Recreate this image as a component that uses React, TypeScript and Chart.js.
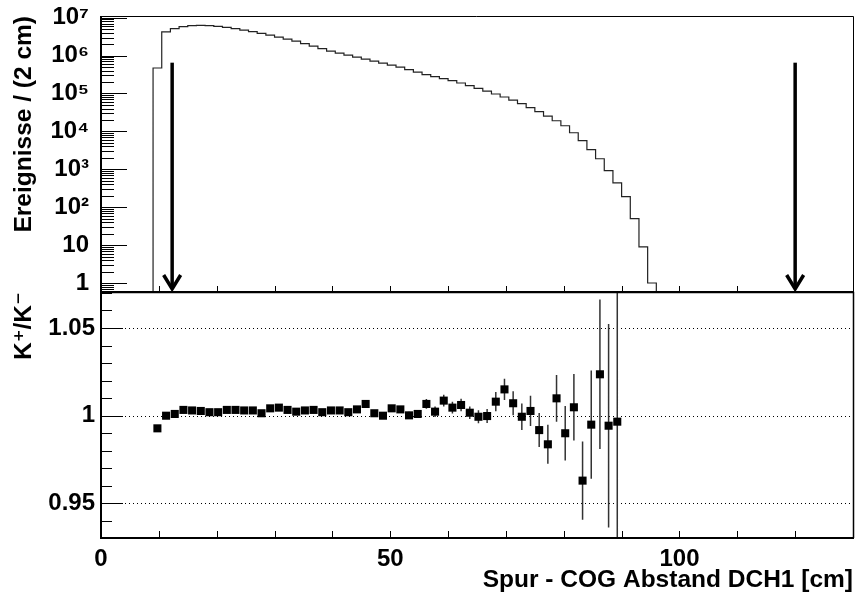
import React, { useEffect, useRef } from 'react';
import { Chart, registerables } from 'chart.js';

Chart.register(...registerables);

const FONT_FAMILY = "'Liberation Sans', Arial, 'DejaVu Sans', sans-serif";

// ---------------- data ----------------
// histogram: lower bin edges [cm] and counts per bin
const histLowEdges = [
  9, 10.5, 12, 13.5, 15, 16.5, 18, 19.5, 21, 22.5,
  24, 25.5, 27, 28.5, 30, 31.5, 33, 34.5, 36, 37.5,
  39, 40.5, 42, 43.5, 45, 46.5, 48, 49.5, 51, 52.5,
  54, 55.5, 57, 58.5, 60, 61.5, 63, 64.5, 66, 67.5,
  69, 70.5, 72, 73.5, 75, 76.5, 78, 79.5, 81, 82.5,
  84, 85.5, 87, 88.5, 90, 91.5, 93, 94.5,
];
const histUpperEdge = 96;
const histCounts = [
  4.71e5, 4.2e6, 5.13e6, 5.79e6, 6.15e6, 6.26e6, 6.15e6, 5.89e6, 5.55e6, 5.13e6,
  4.68e6, 4.27e6, 3.85e6, 3.45e6, 3.06e6, 2.71e6, 2.4e6, 2.06e6, 1.77e6, 1.52e6,
  1.31e6, 1.16e6, 1.03e6, 9.08e5, 8.04e5, 7.12e5, 6.3e5, 5.58e5, 4.94e5, 4.25e5,
  3.65e5, 3.13e5, 2.77e5, 2.46e5, 2.18e5, 1.89e5, 1.61e5, 1.36e5, 1.15e5, 9.7e4,
  8.09e4, 6.65e4, 5.38e4, 4.22e4, 3.31e4, 2.52e4, 1.91e4, 1.41e4, 9.2e3, 5.7e3,
  3.3e3, 1.9e3, 920, 440, 190, 50, 9, 1,
];

// ratio K+/K-: bin centres, values, errors
const ratioX = [
  9.75, 11.25, 12.75, 14.25, 15.75, 17.25, 18.75, 20.25, 21.75, 23.25,
  24.75, 26.25, 27.75, 29.25, 30.75, 32.25, 33.75, 35.25, 36.75, 38.25,
  39.75, 41.25, 42.75, 44.25, 45.75, 47.25, 48.75, 50.25, 51.75, 53.25,
  54.75, 56.25, 57.75, 59.25, 60.75, 62.25, 63.75, 65.25, 66.75, 68.25,
  69.75, 71.25, 72.75, 74.25, 75.75, 77.25, 78.75, 80.25, 81.75, 83.25,
  84.75, 86.25, 87.75, 89.25,
];
const ratioY = [
  0.9928, 1.0, 1.001, 1.0033, 1.003, 1.0027, 1.002, 1.002, 1.0033, 1.0033,
  1.003, 1.003, 1.0014, 1.0042, 1.0046, 1.0033, 1.0023, 1.003, 1.0033, 1.002,
  1.003, 1.003, 1.002, 1.0036, 1.0067, 1.0014, 1.0, 1.0042, 1.0036, 1.0002,
  1.001, 1.0067, 1.0023, 1.0086, 1.0046, 1.0061, 1.0017, 0.9994, 0.9998, 1.008,
  1.015, 1.0071, 0.9994, 1.0027, 0.9918, 0.9837, 1.0099, 0.99, 1.0048, 0.963,
  0.9949, 1.0236, 0.9943, 0.9966,
];
const ratioErr = [
  0.0008, 0.0006, 0.0005, 0.0005, 0.0005, 0.0005, 0.0005, 0.0005, 0.0006, 0.0006,
  0.0006, 0.0007, 0.0007, 0.0008, 0.0008, 0.0009, 0.0009, 0.001, 0.001, 0.0011,
  0.0012, 0.0012, 0.0013, 0.0014, 0.0015, 0.0016, 0.0017, 0.0018, 0.002, 0.0021,
  0.0023, 0.0028, 0.003, 0.0033, 0.0034, 0.0035, 0.0036, 0.0037, 0.004, 0.0055,
  0.006, 0.0069, 0.0076, 0.0086, 0.0097, 0.0111, 0.0133, 0.0156, 0.019, 0.0223,
  0.0308, 0.0426, 0.058, 0.2,
];

// cut positions (arrows) and arrow top level
const cutArrowsX = [12.3, 120];
const arrowTopValue = 6.5e5;

// axes
const xRange = [0, 130];
const xTickValues = [0, 50, 100];
const xTickLabels = ['0', '50', '100'];
const topYRange = [0.579, 1.108e7];
const topTickValues = [1, 10, 100, 1e3, 1e4, 1e5, 1e6, 1e7];
const topTickLabels = ['1', '10', '10²', '10³', '10⁴', '10⁵', '10⁶', '10⁷'];
const ratioYRange = [0.9303, 1.0705];
const ratioTickValues = [0.95, 1, 1.05];
const ratioTickLabels = ['0.95', '1', '1.05'];

// ---------------- layout ----------------
const W = 859;
const PAGE_H = 592;
const PANEL_SPLIT = 292; // page y of boundary between the panels
const PLOT_TOP = 16; // page y of top of the upper panel
const PLOT_BOTTOM = 538; // page y of bottom of the lower panel
const OVER = 40; // overlap margin of the canvases
const TOP_CANVAS_Y = -OVER;
const TOP_H = PANEL_SPLIT + 2 * OVER;
const BOT_CANVAS_Y = PANEL_SPLIT - OVER;
const BOT_H = PAGE_H - BOT_CANVAS_Y;
const AXIS_W = 101;
const RIGHT_PAD = 6;
const HIST_FLOOR = 0.1;

const tickFont = { family: FONT_FAMILY, size: 24, weight: 'bold' as const };
const titleFont = { family: FONT_FAMILY, size: 24.5, weight: 'bold' as const, lineHeight: 1 };

function drawFrame(ctx: CanvasRenderingContext2D, a: any, bottomW: number, topW: number) {
  ctx.strokeStyle = '#000';
  ctx.lineWidth = 2;
  ctx.beginPath();
  ctx.moveTo(a.left, a.top);
  ctx.lineTo(a.left, a.bottom);
  ctx.stroke();
  ctx.lineWidth = bottomW;
  ctx.beginPath();
  ctx.moveTo(a.left - 1, a.bottom);
  ctx.lineTo(a.right + 1, a.bottom);
  ctx.stroke();
  ctx.lineWidth = topW;
  ctx.beginPath();
  ctx.moveTo(a.left - 1, a.top + 0.5);
  ctx.lineTo(a.right + 0.5, a.top + 0.5);
  ctx.lineTo(a.right + 0.5, a.bottom);
  ctx.stroke();
}

const topDecorPlugin = {
  id: 'topDecor',
  afterDraw(chart: any) {
    const { ctx, chartArea: a, scales } = chart;
    const xs = scales.x;
    const ys = scales.y;
    ctx.save();
    ctx.strokeStyle = '#000';
    ctx.lineWidth = 1;
    ctx.beginPath();
    for (let e = -1; e <= 7; e++) {
      for (let m = 1; m <= 9; m++) {
        const v = m * Math.pow(10, e);
        if (v < ys.min || v > ys.max) continue;
        const py = Math.round(ys.getPixelForValue(v)) + 0.5;
        const len = m === 1 ? 26 : 13;
        ctx.moveTo(a.left, py);
        ctx.lineTo(a.left + len, py);
      }
    }
    for (let v = xRange[0] + 10; v < xRange[1]; v += 10) {
      const px = Math.round(xs.getPixelForValue(v)) + 0.5;
      ctx.moveTo(px, a.bottom);
      ctx.lineTo(px, a.bottom - 6);
    }
    ctx.stroke();

    // cut arrows
    ctx.lineWidth = 3.5;
    ctx.lineCap = 'butt';
    ctx.lineJoin = 'miter';
    for (const ax of cutArrowsX) {
      const px = xs.getPixelForValue(ax);
      const pTop = ys.getPixelForValue(arrowTopValue);
      const pBot = a.bottom - 3;
      ctx.beginPath();
      ctx.moveTo(px, pTop);
      ctx.lineTo(px, pBot);
      ctx.stroke();
      ctx.beginPath();
      ctx.moveTo(px - 8.5, pBot - 14);
      ctx.lineTo(px, pBot);
      ctx.lineTo(px + 8.5, pBot - 14);
      ctx.stroke();
    }

    drawFrame(ctx, a, 2, 1);
    ctx.restore();
  },
};

const botDecorPlugin = {
  id: 'botDecor',
  beforeDatasetsDraw(chart: any) {
    const { ctx, chartArea: a, scales } = chart;
    const xs = scales.x;
    const ys = scales.y;
    ctx.save();
    ctx.strokeStyle = '#000';
    ctx.lineWidth = 1;
    ctx.setLineDash([1, 3]);
    ctx.beginPath();
    for (const v of ratioTickValues) {
      const py = Math.round(ys.getPixelForValue(v)) + 0.5;
      ctx.moveTo(a.left, py);
      ctx.lineTo(a.right, py);
    }
    ctx.stroke();
    ctx.setLineDash([]);
    ctx.beginPath();
    ctx.rect(a.left, a.top, a.right - a.left, a.bottom - a.top);
    ctx.clip();
    ctx.strokeStyle = '#333';
    ctx.lineWidth = 1.5;
    ctx.beginPath();
    ratioX.forEach((x, i) => {
      const px = xs.getPixelForValue(x);
      ctx.moveTo(px, ys.getPixelForValue(ratioY[i] - ratioErr[i]));
      ctx.lineTo(px, ys.getPixelForValue(ratioY[i] + ratioErr[i]));
    });
    ctx.stroke();
    ctx.restore();
  },
  afterDraw(chart: any) {
    const { ctx, chartArea: a, scales } = chart;
    const xs = scales.x;
    const ys = scales.y;
    ctx.save();
    ctx.strokeStyle = '#000';
    ctx.lineWidth = 1;
    ctx.beginPath();
    for (let k = 93; k <= 107; k++) {
      const v = k / 100;
      if (v < ys.min || v > ys.max) continue;
      const py = Math.round(ys.getPixelForValue(v)) + 0.5;
      const major = ratioTickValues.some((t) => Math.abs(t - v) < 1e-9);
      ctx.moveTo(a.left, py);
      ctx.lineTo(a.left + (major ? 22 : 11), py);
    }
    for (let v = xRange[0] + 10; v < xRange[1]; v += 10) {
      const px = Math.round(xs.getPixelForValue(v)) + 0.5;
      ctx.moveTo(px, a.bottom);
      ctx.lineTo(px, a.bottom - 7);
    }
    ctx.stroke();
    drawFrame(ctx, a, 2, 1.5);
    ctx.restore();
  },
};

function App() {
  const topRef = useRef<HTMLCanvasElement>(null);
  const botRef = useRef<HTMLCanvasElement>(null);

  useEffect(() => {
    const histData = [
      { x: histLowEdges[0], y: HIST_FLOOR },
      ...histLowEdges.map((e, i) => ({ x: e, y: histCounts[i] })),
      { x: histUpperEdge, y: histCounts[histCounts.length - 1] },
      { x: histUpperEdge, y: HIST_FLOOR },
    ];

    const top = new Chart(topRef.current as HTMLCanvasElement, {
      type: 'line',
      data: {
        datasets: [
          {
            data: histData,
            stepped: 'before',
            borderColor: '#222',
            borderWidth: 1.2,
            pointRadius: 0,
            fill: false,
          } as any,
        ],
      },
      options: {
        responsive: false,
        animation: false,
        events: [],
        devicePixelRatio: 1,
        layout: {
          padding: {
            left: 0,
            right: RIGHT_PAD,
            top: PLOT_TOP - TOP_CANVAS_Y,
            bottom: TOP_CANVAS_Y + TOP_H - PANEL_SPLIT,
          },
        },
        plugins: { legend: { display: false }, tooltip: { enabled: false } },
        scales: {
          x: { type: 'linear', min: xRange[0], max: xRange[1], display: false },
          y: {
            type: 'logarithmic',
            min: topYRange[0],
            max: topYRange[1],
            afterFit: (s: any) => {
              s.width = AXIS_W;
            },
            afterBuildTicks: (s: any) => {
              s.ticks = topTickValues.map((v) => ({ value: v }));
            },
            grid: { display: false, drawTicks: false },
            border: { display: false },
            ticks: {
              autoSkip: false,
              padding: 12,
              color: '#000',
              font: tickFont,
              callback: (v: any) => topTickLabels[topTickValues.indexOf(Number(v))] ?? '',
            },
            title: {
              display: true,
              text: 'Ereignisse / (2 cm)',
              align: 'end',
              color: '#000',
              font: titleFont,
              padding: { top: 12, bottom: 0 },
            },
          } as any,
        },
      },
      plugins: [topDecorPlugin],
    });

    const bot = new Chart(botRef.current as HTMLCanvasElement, {
      type: 'scatter',
      data: {
        datasets: [
          {
            data: ratioX.map((x, i) => ({ x, y: ratioY[i] })),
            pointStyle: 'rect',
            pointRadius: 5.7,
            backgroundColor: '#000',
            borderWidth: 0,
            showLine: false,
          } as any,
        ],
      },
      options: {
        responsive: false,
        animation: false,
        events: [],
        devicePixelRatio: 1,
        layout: {
          padding: { left: 0, right: RIGHT_PAD, top: PANEL_SPLIT - BOT_CANVAS_Y, bottom: 0 },
        },
        plugins: { legend: { display: false }, tooltip: { enabled: false } },
        scales: {
          x: {
            type: 'linear',
            min: xRange[0],
            max: xRange[1],
            afterFit: (s: any) => {
              s.height = PAGE_H - PLOT_BOTTOM;
            },
            afterBuildTicks: (s: any) => {
              s.ticks = xTickValues.map((v) => ({ value: v }));
            },
            grid: { display: false, drawTicks: false },
            border: { display: false },
            ticks: {
              autoSkip: false,
              maxRotation: 0,
              padding: 7,
              color: '#000',
              font: tickFont,
              callback: (v: any) => xTickLabels[xTickValues.indexOf(Number(v))] ?? '',
            },
            title: {
              display: true,
              text: 'Spur - COG Abstand DCH1 [cm]',
              align: 'end',
              color: '#000',
              font: titleFont,
              padding: { top: 0, bottom: 0 },
            },
          } as any,
          y: {
            type: 'linear',
            min: ratioYRange[0],
            max: ratioYRange[1],
            afterFit: (s: any) => {
              s.width = AXIS_W;
            },
            afterBuildTicks: (s: any) => {
              s.ticks = ratioTickValues.map((v) => ({ value: v }));
            },
            grid: { display: false, drawTicks: false },
            border: { display: false },
            ticks: {
              autoSkip: false,
              padding: 6,
              color: '#000',
              font: tickFont,
              callback: (v: any) => {
                const i = ratioTickValues.findIndex((t) => Math.abs(t - Number(v)) < 1e-9);
                return i >= 0 ? ratioTickLabels[i] : '';
              },
            },
            title: {
              display: true,
              text: 'K⁺/K⁻',
              align: 'end',
              color: '#000',
              font: titleFont,
              padding: { top: 12, bottom: 0 },
            },
          } as any,
        },
      },
      plugins: [botDecorPlugin],
    });

    return () => {
      top.destroy();
      bot.destroy();
    };
  }, []);

  return (
    <div
      style={{
        position: 'absolute',
        left: 0,
        top: 0,
        width: W,
        height: PAGE_H,
        background: '#fff',
        overflow: 'hidden',
      }}
    >
      <canvas
        ref={topRef}
        width={W}
        height={TOP_H}
        style={{ position: 'absolute', left: 0, top: TOP_CANVAS_Y, width: W, height: TOP_H }}
      />
      <canvas
        ref={botRef}
        width={W}
        height={BOT_H}
        style={{ position: 'absolute', left: 0, top: BOT_CANVAS_Y, width: W, height: BOT_H }}
      />
    </div>
  );
}

export default App;
